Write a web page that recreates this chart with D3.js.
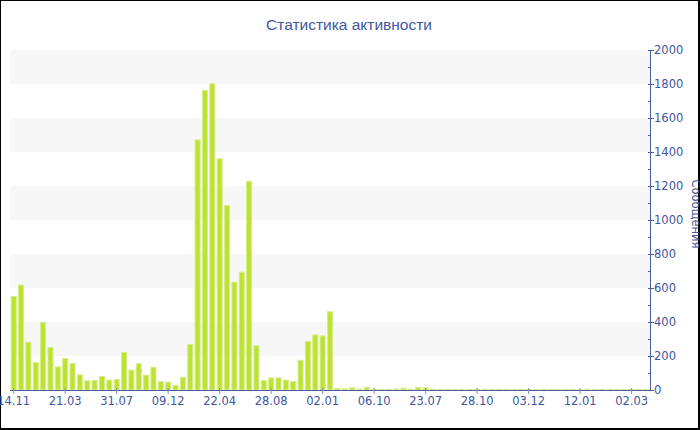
<!DOCTYPE html>
<html><head><meta charset="utf-8">
<script src="https://cdn.jsdelivr.net/npm/d3@7"></script>
<style>html,body{margin:0;padding:0;background:#fff}svg{display:block}</style>
</head><body>
<svg id="c" width="700" height="430"></svg>
<script>
const title = "Статистика активности";
const yTitle = "Сообщения";
const values = [553,620,284,165,400,253,139,188,159,92,57,59,82,61,65,224,120,157,90,137,53,49,30,78,270,
 1474,1765,1804,1363,1088,637,696,1231,263,59,74,74,61,53,178,288,327,321,463,
 12,10,16,8,18,8,7,7,9,14,8,18,16,8,7,7,6,7,6,7,8,6,7,6,6,7,6,6,7,7,6,6,7,6,8,6,6,7,6,6,7,6,6];
const categories = values.map((v,i)=>i);
const tickLabels = ["14.11","21.03","31.07","09.12","22.04","28.08","02.01","06.10","23.07","28.10","03.12","12.01","02.03"];
const tickEvery = 7;
const yTicks = [0,200,400,600,800,1000,1200,1400,1600,1800,2000];
const yMinor = [100,300,500,700,900,1100,1300,1500,1700,1900];

const textColor = "#3f56a0", axisColor = "#4a5c9e";
const svg = d3.select("#c");
svg.append("rect").attr("width",700).attr("height",430).attr("fill","#000");
svg.append("rect").attr("x",1).attr("y",1).attr("width",697).attr("height",427).attr("fill","#fff");

const x = d3.scaleBand().domain(categories).range([10,650]).paddingInner(0.18).paddingOuter(0.09);
const y = d3.scaleLinear().domain([0,2000]).range([390,50]);

// bands
for (let i=0;i<yTicks.length-1;i++){
  if ((yTicks.length-2-i)%2===0){
    svg.append("rect").attr("x",10).attr("width",640)
      .attr("y",y(yTicks[i+1])).attr("height",y(yTicks[i])-y(yTicks[i+1])).attr("fill","#f7f7f7");
  }
}

svg.append("text").attr("x",349).attr("y",30).attr("text-anchor","middle")
  .attr("font-family","Liberation Sans, Arial, sans-serif").attr("font-size",15.5)
  .attr("fill",textColor).text(title);

// bars
svg.append("g").selectAll("rect").data(values).join("rect")
  .attr("x",(d,i)=>x(categories[i])+0.5).attr("width",x.bandwidth()-1)
  .attr("y",d=>y(d)+0.5).attr("height",d=>Math.max(0,y(0)-y(d)-0.5))
  .attr("fill","#bde134").attr("stroke","#d6ee86").attr("stroke-width",1);

// x axis
const xa = svg.append("g");
xa.append("line").attr("x1",10).attr("x2",650).attr("y1",390.5).attr("y2",390.5).attr("stroke",axisColor);
tickLabels.forEach((t,k)=>{
  const cx = x(categories[k*tickEvery]) + x.bandwidth()/2;
  xa.append("line").attr("x1",cx).attr("x2",cx).attr("y1",388).attr("y2",394).attr("stroke","#8890a8");
  xa.append("text").attr("x",cx).attr("y",405).attr("text-anchor","middle")
    .attr("font-family","DejaVu Sans, Verdana, sans-serif").attr("font-size",11.5)
    .attr("fill",textColor).text(t);
});

// y axis
const ya = svg.append("g");
ya.append("line").attr("x1",650.5).attr("x2",650.5).attr("y1",y(2000)).attr("y2",y(0)+1).attr("stroke",axisColor);
yTicks.forEach(v=>{
  ya.append("line").attr("x1",648).attr("x2",654).attr("y1",Math.round(y(v))+0.5).attr("y2",Math.round(y(v))+0.5).attr("stroke",axisColor);
  ya.append("text").attr("x",654).attr("y",y(v)).attr("dy","0.36em")
    .attr("font-family","DejaVu Sans, Verdana, sans-serif").attr("font-size",11.5)
    .attr("fill",textColor).text(v);
});
yMinor.forEach(v=>{
  ya.append("line").attr("x1",648).attr("x2",651).attr("y1",Math.round(y(v))+0.5).attr("y2",Math.round(y(v))+0.5).attr("stroke",axisColor);
});
svg.append("text").attr("transform","translate(692,214) rotate(90)").attr("text-anchor","middle")
  .attr("font-family","DejaVu Sans, Verdana, sans-serif").attr("font-size",11.5)
  .attr("fill",textColor).text(yTitle);
</script>
</body></html>
